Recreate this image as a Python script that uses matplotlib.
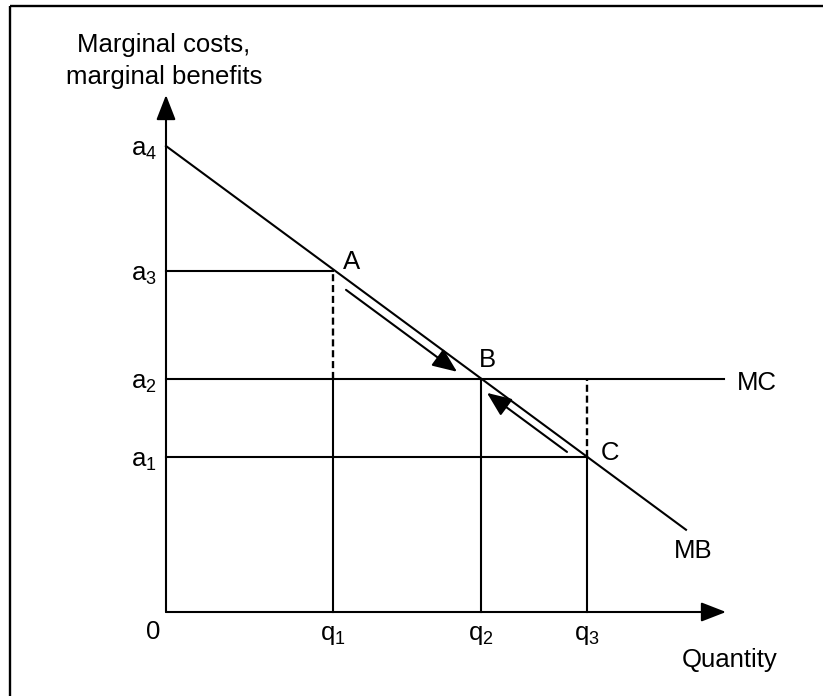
import matplotlib
matplotlib.use("Agg")
import matplotlib.pyplot as plt
import numpy as np

plt.rcParams['font.family'] = ['Liberation Sans', 'DejaVu Sans']
plt.rcParams['mathtext.fontset'] = 'custom'
plt.rcParams['mathtext.rm'] = 'Liberation Sans'

# ---- data (arbitrary units) ----
q_labels = ['q1', 'q2', 'q3']
q_values = [167, 315, 421]
a_labels = ['a1', 'a2', 'a3', 'a4']
a_values = [155, 233, 341, 466]
mb_intercept = 466
mb_slope = -0.738
mb_end_x = 520
mc_level = 233
x_axis_end = 560
y_axis_end = 517

FS = 18.5
LW = 1.5

fig = plt.figure(figsize=(8.23, 6.96), dpi=100)
ax = fig.add_axes([0, 0, 1, 1])
ax.set_xlim(-166, 657)
ax.set_ylim(-84, 612)
ax.axis('off')

def mb(x):
    return mb_intercept + mb_slope * np.asarray(x)

# frame (left & top edges)
ax.plot([-156, -156], [-84, 606], color='black', lw=1.7, solid_capstyle='butt')
ax.plot([-156, 657], [606, 606], color='black', lw=1.7, solid_capstyle='butt')

# axes with arrows
arrow_style = '-|>,head_length=0.9,head_width=0.35'
ax.annotate('', xy=(0, y_axis_end), xytext=(0, 0),
            arrowprops=dict(arrowstyle=arrow_style, color='black', lw=LW,
                            mutation_scale=17, shrinkA=0, shrinkB=0))
ax.annotate('', xy=(x_axis_end, 0), xytext=(0, 0),
            arrowprops=dict(arrowstyle=arrow_style, color='black', lw=LW,
                            mutation_scale=17, shrinkA=0, shrinkB=0))

# MB line
xs = np.array([0, mb_end_x])
ax.plot(xs, mb(xs), color='black', lw=LW)
# MC line
ax.plot([0, x_axis_end - 2], [mc_level, mc_level], color='black', lw=LW)

qA, qB, qC = q_values
a1, a2, a3, a4 = a_values
dash = (3.0, 1.6)
DLW = 1.7
# horizontal lines to a3 and a1
ax.plot([0, qA], [a3, a3], color='black', lw=LW)
ax.plot([0, qC], [a1, a1], color='black', lw=LW)
# verticals
ax.plot([qA, qA], [0, a2], color='black', lw=LW)
ax.plot([qA, qA], [a2, a3], color='black', lw=DLW, dashes=dash)
ax.plot([qB, qB], [0, a2], color='black', lw=LW)
ax.plot([qC, qC], [0, a1], color='black', lw=LW)
ax.plot([qC, qC], [a1, a2], color='black', lw=DLW, dashes=dash)

# movement arrows parallel to MB
def par_arrow(x0, x1, off):
    ax.annotate('', xy=(x1, mb(x1) - off), xytext=(x0, mb(x0) - off),
                arrowprops=dict(arrowstyle='-|>,head_length=1.0,head_width=0.42',
                                color='black', lw=LW, mutation_scale=15,
                                shrinkA=0, shrinkB=0))
par_arrow(180, 291, 11)
par_arrow(401, 321, 10)

# tick labels
for lab, v in zip(a_labels, a_values):
    ax.text(-9, v - 4, r'$\mathregular{%s_{%s}}$' % (lab[0], lab[1]),
            ha='right', va='center', fontsize=FS)
for lab, v in zip(q_labels, q_values):
    ax.text(v, -23, r'$\mathregular{%s_{%s}}$' % (lab[0], lab[1]),
            ha='center', va='center', fontsize=FS)
ax.text(-13, -20, '0', ha='center', va='center', fontsize=FS)

# point labels
ax.text(qA + 19, a3 + 9, 'A', ha='center', va='center', fontsize=FS)
ax.text(qB + 6, a2 + 19, 'B', ha='center', va='center', fontsize=FS)
ax.text(qC + 23, a1 + 4, 'C', ha='center', va='center', fontsize=FS)
ax.text(591, mc_level - 4, 'MC', ha='center', va='center', fontsize=FS)
ax.text(527, 61, 'MB', ha='center', va='center', fontsize=FS)
ax.text(564, -48, 'Quantity', ha='center', va='center', fontsize=FS)
ax.text(-2, 567, 'Marginal costs,', ha='center', va='center', fontsize=FS)
ax.text(-2, 535, 'marginal benefits', ha='center', va='center', fontsize=FS)

fig.savefig('out.png', dpi=100)
